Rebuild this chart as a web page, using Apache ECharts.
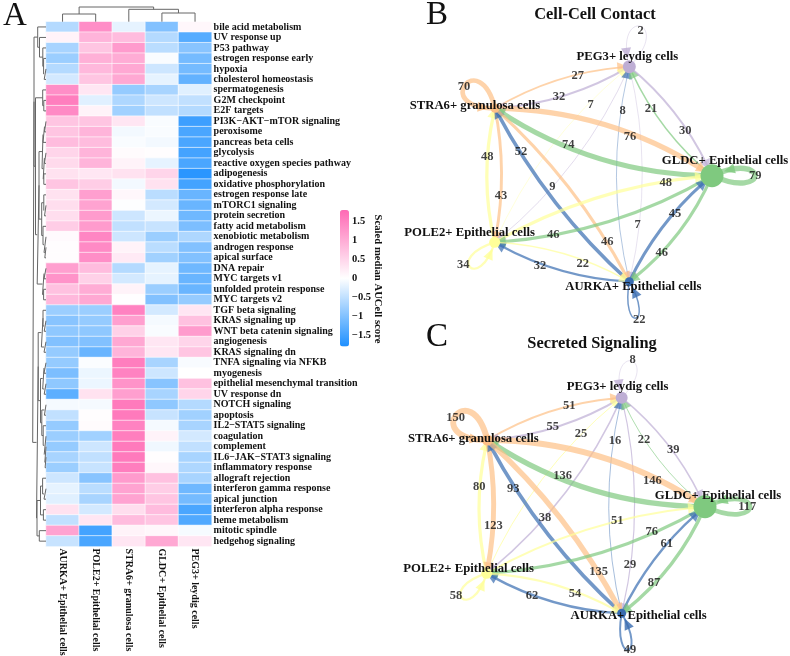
<!DOCTYPE html>
<html><head><meta charset="utf-8">
<style>html,body{margin:0;padding:0;background:#fff}#c{width:790px;height:656px}</style>
<script src="https://cdn.jsdelivr.net/npm/echarts@6/dist/echarts.min.js"></script>
</head><body><div id="c"></div>
<script>
const SERIF = '"Liberation Serif","Times New Roman",serif';
const colLabels = ['AURKA+ Epithelial cells','POLE2+ Epithelial cells','STRA6+ granulosa cells','GLDC+ Epithelial cells','PEG3+ leydig cells'];
const rowLabels = ['bile acid metabolism','UV response up','P53 pathway','estrogen response early','hypoxia','cholesterol homeostasis','spermatogenesis','G2M checkpoint','E2F targets','PI3K−AKT−mTOR signaling','peroxisome','pancreas beta cells','glycolysis','reactive oxygen species pathway','adipogenesis','oxidative phosphorylation','estrogen response late','mTORC1 signaling','protein secretion','fatty acid metabolism','xenobiotic metabolism','androgen response','apical surface','DNA repair','MYC targets v1','unfolded protein response','MYC targets v2','TGF beta signaling','KRAS signaling up','WNT beta catenin signaling','angiogenesis','KRAS signaling dn','TNFA signaling via NFKB','myogenesis','epithelial mesenchymal transition','UV response dn','NOTCH signaling','apoptosis','IL2−STAT5 signaling','coagulation','complement','IL6−JAK−STAT3 signaling','inflammatory response','allograft rejection','interferon gamma response','apical junction','interferon alpha response','heme metabolism','mitotic spindle','hedgehog signaling'];
const aurka = [-0.6,0.15,-0.7,-0.8,-0.6,-0.35,1.35,1.55,1.4,0.7,0.7,0.8,0.5,0.45,0.35,0.7,0.35,0.4,0.4,0.6,0.06,0.03,0.02,1.15,1.3,0.75,0.85,-0.8,-0.95,-0.9,-1.0,-0.85,-0.85,-1.05,-0.9,-1.3,-0.08,-0.5,-0.85,-0.8,-0.85,-0.7,-0.8,-0.4,-0.2,-0.25,0.35,-0.5,1.1,-0.45];
const pole2 = [1.35,0.9,0.7,0.95,0.85,0.7,0.3,-0.25,0.15,0.7,0.9,0.8,0.9,0.9,0.3,0.6,1.15,1.1,1.2,1.2,1.45,1.4,1.35,0.8,0.55,1.0,1.05,-0.8,-0.85,-0.9,-1.0,-1.2,-0.03,-0.15,-0.15,0.35,-0.08,0.02,0.05,-0.75,-0.4,-0.5,-0.45,-0.95,-0.55,-0.7,-0.35,0.3,-1.5,-1.45];
const stra6 = [-0.2,0.8,1.2,1.0,1.05,1.05,-0.85,-0.65,-0.75,0.3,-0.1,-0.05,0.05,0.15,0.35,-0.1,0.1,-0.02,-0.4,-0.5,-0.4,0.15,0.25,-0.6,-0.35,0.15,0.01,1.5,1.15,0.55,1.05,0.9,1.55,1.5,1.3,1.15,1.6,1.6,1.5,1.55,1.6,1.6,1.55,1.2,1.1,1.1,0.4,0.8,0.15,0.3];
const gldc = [-1.0,-0.6,-0.55,-0.05,-0.4,-0.2,-0.7,-0.4,-0.5,-0.05,-0.05,-0.1,0.03,-0.2,0.5,0.35,-0.55,-0.35,-0.15,-0.45,-0.8,-0.55,-0.75,-0.2,-0.2,-0.8,-1.0,-0.35,-0.08,-0.05,0.3,0.3,-0.7,-0.4,-0.95,-0.7,-0.9,-0.45,-0.08,0.15,-0.12,0.03,0.1,0.75,0.6,0.7,0.8,0.7,0.1,1.05];
const peg3 = [0.1,-1.35,-0.95,-1.1,-1.1,-1.25,-0.25,-0.5,-0.6,-1.55,-1.45,-1.45,-1.5,-1.45,-1.7,-1.5,-1.2,-1.2,-1.15,-1.05,-0.65,-1.0,-1.0,-1.15,-1.2,-1.2,-0.85,0.3,0.75,1.2,0.5,0.7,-0.06,0,0.75,0.5,-0.6,-0.75,-0.7,-0.35,-0.5,-0.7,-0.65,-0.7,-1.15,-1.1,-1.45,-1.4,-0.07,0.3];
const colorTicks = [-1.5,-1,-0.5,0,0.5,1,1.5];

// dendrograms: [merge height, left, right]; a number is a leaf index
const colTree = [14.7,[7.7,0,1],[12.4,2,[8.7,3,4]]];
const rowTree = [13.3,
 [12,
  [8.3,0,[6.5,1,[3.2,2,[2.4,3,[1.8,4,5]]]]],
  [10.5,
   [3.3,6,[2.2,7,8]],
   [8.8,
    [7,
     [4,[3,[1.5,9,10],11],[2.8,[1.6,12,13],[2.2,14,15]]],
     [4.3,[2.2,16,[1.5,17,18]],[3,19,[2,20,[1.2,21,22]]]]],
    [3.5,[2,23,24],[2.4,25,26]]]]],
 [9.5,
  [7.8,
   [4.6,[3,27,[1.8,28,29]],[2,30,31]],
   [5.5,
    [3.3,[2,32,33],[1.8,34,35]],
    [4.2,[1.6,36,37],[2.8,38,[1.8,39,[1.2,40,[0.9,41,42]]]]]]],
  [9,
   [5.5,[3.4,43,[2,44,45]],[2.6,46,47]],
   [6.7,48,49]]]];

const nodeNames = ['PEG3+ leydig cells','STRA6+ granulosa cells','GLDC+ Epithelial cells','POLE2+ Epithelial cells','AURKA+ Epithelial cells'];
const nodeColors = ['#BEAED4','#FDC086','#7FC97F','#FFFF99','#386CB0'];
const edgeFrom = [1,0,3,0,4,0,2,0,1,2,3,1,4,1,3,2,4,2,4,3];
const edgeTo   = [0,1,0,3,0,4,0,2,2,1,1,3,1,4,2,3,2,4,3,4];
const contactValues  = [27,32,7,9,8,7,21,30,76,74,48,43,52,46,48,46,45,46,32,22];
const secretedValues = [51,55,25,38,16,29,22,39,146,136,80,123,93,135,51,76,61,87,62,54];
const contactLoops  = [2,70,79,34,22];
const secretedLoops = [8,150,117,58,49];
const contactNodeSize  = [13,9,23,11,9];
const secretedNodeSize = [12,11,23,11,9];

// layout, in page pixels, for the two network panels
const zb = (p)=>[400+p[0]/3,p[1]/3];
const zc = (p)=>[400+p[0]/3,325+p[1]/3];
const contactNodeXY  = [[688,200],[285,325],[936,527],[284,727],[688,845]].map(zb);
const secretedNodeXY = [[665,218],[262,345],[915,545],[260,745],[665,865]].map(zc);
const contactLabelXY = [[533,226],[477,289],[572,314],[457,560],[668,333],[713,675],[753,325],[856,392],[690,410],[505,433],[262,470],[303,587],[363,455],[622,725],[797,548],[460,703],[825,640],[785,757],[420,796],[548,790]].map(zb);
const secretedLabelXY = [[508,242],[458,306],[543,327],[435,577],[645,348],[690,720],[732,343],[820,373],[757,468],[488,452],[238,485],[280,603],[340,490],[596,740],[652,587],[755,620],[800,657],[762,773],[396,812],[525,805]].map(zc);
const contactLoopLabelXY  = [[722,92],[192,260],[1066,527],[190,795],[718,958]].map(zb);
const secretedLoopLabelXY = [[698,105],[167,277],[1042,545],[168,812],[690,975]].map(zc);
const contactNameOffset  = [[-2,-10],[-20,-3],[13,-15],[-25,-10],[4,5]];
const secretedNameOffset = [[-4,-11],[-14,-1],[13,-11],[-18,-5],[17,2]];
const edgeBend = [0.12,0.12,0.12,0.12,0.12,0.12,0.12,0.12,0.15,0.15,0.12,0.1,0.09,0.09,0.11,0.12,0.11,0.13,0.12,0.12];
const loopAngle  = [-75,-142,0,135,80];
const loopSpread = [30,38,24,28,20];
const contactLoopLen  = [42,38,43,35,37];
const secretedLoopLen = [38,40,45,35,37];

function treeSegments(tree, orient){
  const segs=[];
  function walk(n){
    if(typeof n==='number') return {p:n+0.5,h:0};
    const a=walk(n[1]), b=walk(n[2]), h=n[0];
    const pt=(p,v)=>orient==='top'?[p,v]:[v,p];
    segs.push(pt(a.p,a.h),pt(a.p,h),pt(b.p,h),pt(b.p,b.h),['-','-']);
    return {p:(a.p+b.p)/2,h};
  }
  walk(tree);
  return segs;
}

const heatData=[];
[aurka,pole2,stra6,gldc,peg3].forEach((col,x)=>col.forEach((v,y)=>heatData.push([x,y,v])));

function graphSeries(nodeXY,nodeSize,values,nameOffset,scale){
  return {
    type:'graph',coordinateSystem:'cartesian2d',xAxisIndex:4,yAxisIndex:4,layout:'none',roam:false,silent:true,z:3,
    data:nodeNames.map((name,i)=>({name,value:nodeXY[i],symbolSize:nodeSize[i],
      itemStyle:{color:nodeColors[i]},
      label:{show:true,position:'inside',offset:nameOffset[i],formatter:name,color:'#111',fontFamily:SERIF,fontWeight:'bold',fontSize:12.7}})),
    links:values.map((v,i)=>({source:edgeFrom[i],target:edgeTo[i],value:v,
      symbol:['none','triangle'],symbolSize:[10,11],
      lineStyle:{color:nodeColors[edgeFrom[i]],width:Math.max(0.5,v*scale),opacity:0.7,curveness:edgeBend[i]}}))
  };
}
function edgeLabels(xy,values){
  return {type:'scatter',xAxisIndex:4,yAxisIndex:4,symbolSize:0,silent:true,z:6,
    data:values.map((v,i)=>[xy[i][0],xy[i][1],v]),
    label:{show:true,position:'inside',formatter:p=>p.value[2],color:'#111',fontFamily:SERIF,fontWeight:'bold',fontSize:12.5}};
}
function loopSeries(nodeXY,nodeSize,values,lens,scale){
  return {type:'custom',xAxisIndex:4,yAxisIndex:4,silent:true,z:3,clip:false,
    data:values.map((v,i)=>[nodeXY[i][0],nodeXY[i][1],v,i]),
    encode:{x:0,y:1},
    renderItem(params,api){
      const i=api.value(3), v=api.value(2), c=api.coord([api.value(0),api.value(1)]);
      const th=loopAngle[i]*Math.PI/180, d=loopSpread[i]*Math.PI/180, L=lens[i]/(0.75*Math.cos(d));
      const c1=[c[0]+L*Math.cos(th+d),c[1]+L*Math.sin(th+d)], c2=[c[0]+L*Math.cos(th-d),c[1]+L*Math.sin(th-d)];
      const bez=t=>{const m=1-t;return [3*m*m*t*c1[0]+3*m*t*t*c2[0]+(m*m*m+t*t*t)*c[0],3*m*m*t*c1[1]+3*m*t*t*c2[1]+(m*m*m+t*t*t)*c[1]];};
      let t=1,r=nodeSize[i]/2+1;
      while(t>0.5&&Math.hypot(bez(t)[0]-c[0],bez(t)[1]-c[1])<r)t-=0.005;
      const tip=bez(t),back=bez(t-0.04),ang=Math.atan2(tip[1]-back[1],tip[0]-back[0]);
      const hl=11,hw=5,bx=tip[0]-hl*Math.cos(ang),by=tip[1]-hl*Math.sin(ang);
      const color=nodeColors[i];
      return {type:'group',children:[
        {type:'bezierCurve',shape:{x1:c[0],y1:c[1],x2:c[0],y2:c[1],cpx1:c1[0],cpy1:c1[1],cpx2:c2[0],cpy2:c2[1]},
         style:{fill:'none',stroke:color,lineWidth:Math.max(0.5,v*scale),opacity:0.7}},
        {type:'polygon',shape:{points:[tip,[bx-hw*Math.sin(ang),by+hw*Math.cos(ang)],[bx+hw*Math.sin(ang),by-hw*Math.cos(ang)]]},
         style:{fill:color,opacity:0.8}}
      ]};
    }};
}

const hiddenAxis=(o)=>Object.assign({type:'value',show:false},o);
const txt=(text,x,y,size,weight,rot)=>({type:'text',x,y,rotation:rot||0,z:20,silent:true,
  style:{text,fontFamily:SERIF,fontSize:size,fontWeight:weight,fill:'#111',align:'center',verticalAlign:'middle'}});

const chart=echarts.init(document.getElementById('c'),null,{renderer:'canvas'});
chart.setOption({
  animation:false,backgroundColor:'#fff',
  graphic:[
    txt('A',15,16,33,'normal'),txt('B',437,15,33,'normal'),txt('C',437,337,33,'normal'),
    txt('Cell-Cell Contact',595,15,16.4,'bold'),txt('Secreted Signaling',592,344,16.4,'bold'),
    txt('Scaled median AUCell score',378,279,10.7,'bold',-Math.PI/2)
  ],
  visualMap:{type:'continuous',seriesIndex:0,dimension:2,min:-1.8,max:1.8,left:340,top:210,itemWidth:9,itemHeight:136.5,
    calculable:false,realtime:false,text:['',''],showLabel:false,padding:0,
    inRange:{color:['#1E90FF','#FFFFFF','#FF69B4']}},
  grid:[
    {left:46,top:21.7,width:165.6,height:524.7,outerBoundsMode:'none'},
    {left:46,top:5.7,width:165.6,height:16,outerBoundsMode:'none'},
    {left:30,top:21.7,width:16,height:524.7,outerBoundsMode:'none'},
    {left:340,top:210,width:9,height:136.5,outerBoundsMode:'none'},
    {left:0,top:0,width:790,height:656,outerBoundsMode:'none'}
  ],
  xAxis:[
    {type:'category',gridIndex:0,data:colLabels,axisLine:{show:false},axisTick:{show:false},splitLine:{show:false},
     axisLabel:{rotate:-90,margin:2,interval:0,color:'#111',fontFamily:SERIF,fontWeight:'bold',fontSize:10}},
    hiddenAxis({gridIndex:1,min:0,max:5}),
    hiddenAxis({gridIndex:2,min:0,max:16,inverse:true}),
    hiddenAxis({gridIndex:3,min:0,max:1}),
    hiddenAxis({gridIndex:4,min:0,max:790})
  ],
  yAxis:[
    {type:'category',gridIndex:0,data:rowLabels,inverse:true,position:'right',axisLine:{show:false},axisTick:{show:false},splitLine:{show:false},
     axisLabel:{margin:2,interval:0,color:'#111',fontFamily:SERIF,fontWeight:'bold',fontSize:10}},
    hiddenAxis({gridIndex:1,min:0,max:16}),
    hiddenAxis({gridIndex:2,min:0,max:50,inverse:true}),
    {type:'value',gridIndex:3,position:'right',min:-1.8,max:1.8,axisLine:{show:false},axisTick:{show:false},splitLine:{show:false},
     axisLabel:{customValues:colorTicks,margin:3,color:'#111',fontFamily:SERIF,fontWeight:'bold',fontSize:10.5,formatter:v=>String(v).replace('-','−')}},
    hiddenAxis({gridIndex:4,min:0,max:656,inverse:true})
  ],
  series:[
    {type:'heatmap',xAxisIndex:0,yAxisIndex:0,data:heatData,silent:true,itemStyle:{borderColor:'#fff',borderWidth:0.6}},
    {type:'line',xAxisIndex:1,yAxisIndex:1,data:treeSegments(colTree,'top'),showSymbol:false,silent:true,clip:false,lineStyle:{color:'#666',width:1}},
    {type:'line',xAxisIndex:2,yAxisIndex:2,data:treeSegments(rowTree,'left'),showSymbol:false,silent:true,clip:false,lineStyle:{color:'#666',width:1}},
    graphSeries(contactNodeXY,contactNodeSize,contactValues,contactNameOffset,0.068),
    loopSeries(contactNodeXY,contactNodeSize,contactLoops,contactLoopLen,0.068),
    edgeLabels(contactLabelXY,contactValues),
    edgeLabels(contactLoopLabelXY,contactLoops),
    graphSeries(secretedNodeXY,secretedNodeSize,secretedValues,secretedNameOffset,0.04),
    loopSeries(secretedNodeXY,secretedNodeSize,secretedLoops,secretedLoopLen,0.04),
    edgeLabels(secretedLabelXY,secretedValues),
    edgeLabels(secretedLoopLabelXY,secretedLoops)
  ]
});
</script></body></html>
